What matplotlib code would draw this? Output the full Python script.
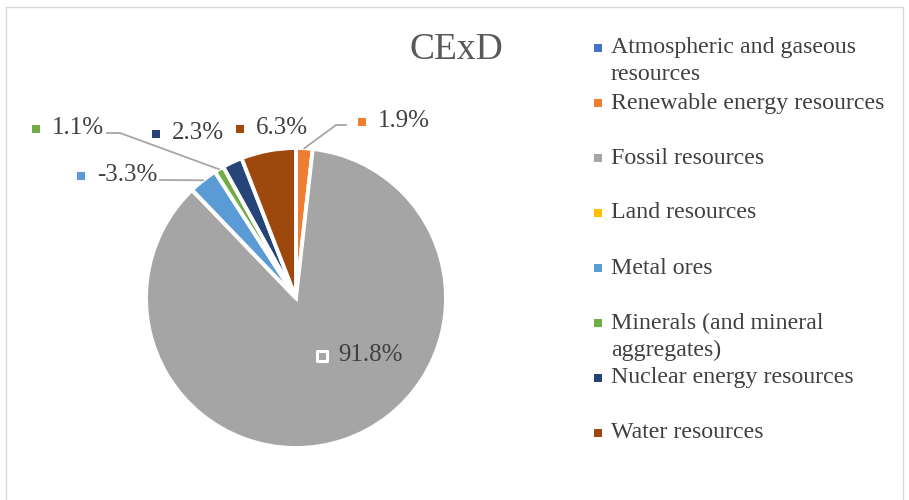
import numpy as np
import matplotlib.pyplot as plt
from matplotlib.patches import Rectangle

categories = ["Atmospheric and gaseous\nresources", "Renewable energy resources",
              "Fossil resources", "Land resources", "Metal ores",
              "Minerals (and mineral\naggregates)", "Nuclear energy resources",
              "Water resources"]
values = [0.0, 1.9, 91.8, 0.0, -3.3, 1.1, 2.3, 6.3]
colors = ["#4472C4", "#ED7D31", "#A5A5A5", "#FFC000", "#5B9BD5", "#70AD47",
          "#264478", "#9E480E"]

plt.rcParams["font.family"] = ["Liberation Serif", "DejaVu Serif"]
txt = "#404040"
H = 500  # figure height in px, used to flip image y to data y

fig = plt.figure(figsize=(9.09, 5), dpi=100)
ax = fig.add_axes([0, 0, 1, 1])

cx, cy, r = 296, H - 298, 150
sizes = np.abs(values)
ax.pie(sizes, colors=colors, startangle=90, counterclock=False,
       center=(cx, cy), radius=r, frame=True,
       wedgeprops=dict(edgecolor="white", linewidth=2.8))
ax.set_xlim(0, 909)
ax.set_ylim(0, H)
ax.set_aspect("equal")
ax.axis("off")

# mid angle of every wedge (degrees)
frac = sizes / sizes.sum()
start = 90 - 360 * (np.cumsum(frac) - frac)
mid = start - 180 * frac

# label layout: text left x, centre y (image px)
label_pos = {1: (378, 121), 2: (338, 355), 4: (97, 175), 5: (52, 128),
             6: (172, 133), 7: (256, 128)}
# leader line label-side points (image px)
leaders = {1: [(346, 125), (336, 125)], 4: [(160, 180)], 5: [(107, 133), (120, 133)]}

for i, (lx, ly) in label_pos.items():
    ax.text(lx, H - ly, f"{values[i]:.1f}%", color=txt, fontsize=18,
            ha="left", va="center")
    if i == 2:
        ax.scatter([lx - 16], [H - ly - 1], marker="s", s=60,
                   color=colors[i], edgecolor="white", linewidth=2.2, zorder=5)
    else:
        ax.scatter([lx - 16], [H - ly - 1], marker="s", s=30,
                   color=colors[i], linewidth=0, zorder=5)
    if i in leaders:
        a = np.radians(mid[i])
        px, py = cx + r * np.cos(a), cy + r * np.sin(a)
        xs = [p[0] for p in leaders[i]] + [px]
        ys = [H - p[1] for p in leaders[i]] + [py]
        ax.plot(xs, ys, color="#A6A6A6", lw=1.3, zorder=4)

ax.text(456, H - 50, "CExD", color="#595959", fontsize=27,
        ha="center", va="center")

# legend
for i, cat in enumerate(categories):
    y = 48 + 55 * i
    ax.scatter([598], [H - y], marker="s", s=30, color=colors[i], linewidth=0)
    for k, line in enumerate(cat.split("\n")):
        ax.text(611, H - y - 27 * k, line, color=txt, fontsize=17.2,
                ha="left", va="center")

ax.add_patch(Rectangle((6, -10), 897, H - 7 + 10, fill=False,
                       edgecolor="#D9D9D9", lw=1, clip_on=False))

fig.savefig("out.png", dpi=100)
